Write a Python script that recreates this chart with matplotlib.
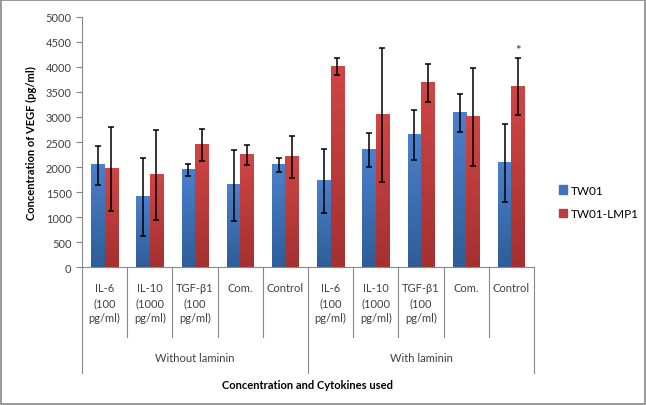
import numpy as np
import matplotlib.pyplot as plt
from matplotlib.colors import LinearSegmentedColormap
from matplotlib.patches import Rectangle, Patch
from matplotlib.lines import Line2D

plt.rcParams['font.family'] = ['Lato', 'DejaVu Sans']

# Data
categories = ["IL-6\n(100\npg/ml)", "IL-10\n(1000\npg/ml)", "TGF-β1\n(100\npg/ml)", "Com.", "Control",
              "IL-6\n(100\npg/ml)", "IL-10\n(1000\npg/ml)", "TGF-β1\n(100\npg/ml)", "Com.", "Control"]
groups = ["Without laminin", "With laminin"]
tw01 = [2040, 1400, 1940, 1640, 2040, 1720, 2340, 2640, 3080, 2080]
tw01_err = [390, 780, 125, 710, 140, 640, 340, 500, 380, 770]
lmp1 = [1960, 1840, 2440, 2240, 2200, 4000, 3040, 3680, 3000, 3600]
lmp1_err = [830, 900, 320, 200, 410, 170, 1340, 380, 980, 570]
series_names = ["TW01", "TW01-LMP1"]

fig = plt.figure(figsize=(6.46, 4.06), dpi=100)
ax = fig.add_axes([82 / 646, 1 - 268.3 / 406, 452 / 646, 250.6 / 406])

blue_cmap = LinearSegmentedColormap.from_list("b", ["#2e5d98", "#4b80cc"])
red_cmap = LinearSegmentedColormap.from_list("r", ["#a53030", "#cf4646"])
grad = np.linspace(0, 1, 100).reshape(-1, 1)

w = 0.295
x = np.arange(len(categories))

def gradient_bars(xs, heights, cmap):
    for xi, h in zip(xs, heights):
        ax.imshow(grad, cmap=cmap, origin="lower", aspect="auto",
                  extent=(xi - w / 2, xi + w / 2, 0, h), zorder=2)

gradient_bars(x - w / 2, tw01, blue_cmap)
gradient_bars(x + w / 2, lmp1, red_cmap)

ax.errorbar(x - w / 2, tw01, yerr=tw01_err, fmt="none", ecolor="black",
            elinewidth=1.1, capsize=2.3, capthick=1.1, zorder=3)
ax.errorbar(x + w / 2, lmp1, yerr=lmp1_err, fmt="none", ecolor="black",
            elinewidth=1.1, capsize=2.3, capthick=1.1, zorder=3)

ax.text(9 + w / 2, 4330, "*", ha="center", va="center", fontsize=9.5, color="#333333")

ax.set_xlim(-0.5, 9.5)
ax.set_ylim(0, 5000)
ax.set_yticks(np.arange(0, 5001, 500))
ax.tick_params(axis="y", labelsize=8, colors="#404040", length=4, color="#888888")
ax.set_xticks([])
for s in ["top", "right"]:
    ax.spines[s].set_visible(False)
ax.spines["left"].set_color("#888888")
ax.spines["bottom"].set_color("#888888")
ax.set_ylabel("Concentration of VEGF (pg/ml)", fontsize=8, fontweight="bold", labelpad=6)

# multi-level category axis
trans = ax.get_xaxis_transform()
px = 1 / 250.6
for i, lab in enumerate(categories):
    ax.text(i, -(283 - 268.3) * px, lab, transform=trans, ha="center", va="top",
            fontsize=8, color="#404040", linespacing=1.45)
for b in np.arange(-0.5, 10, 1.0):
    bottom = -(374 - 268.3) * px if b in (-0.5, 4.5, 9.5) else -(338 - 268.3) * px
    ax.add_line(Line2D([b, b], [0, bottom], transform=trans, color="#888888",
                       lw=0.8, clip_on=False))
for gi, g in enumerate(groups):
    ax.text(2 + gi * 5, -(359 - 268.3) * px, g, transform=trans, ha="center", va="center",
            fontsize=8, color="#404040")
ax.text(4.5, -(386 - 268.3) * px, "Concentration and Cytokines used", transform=trans,
        ha="center", va="center", fontsize=8, fontweight="bold")

handles = [Patch(color="#3f72b8"), Patch(color="#bd3c3c")]
fig.legend(handles, series_names, loc="center left", bbox_to_anchor=(548 / 646, 1 - 203 / 406),
           frameon=False, fontsize=8.5, handlelength=0.7, handleheight=0.7,
           handletextpad=0.3, labelspacing=1.1)

fig.add_artist(Rectangle((0.001, 0.002), 0.997, 0.996, transform=fig.transFigure,
                         fill=False, edgecolor="#888888", lw=1.2))

fig.savefig("out.png", dpi=100)
